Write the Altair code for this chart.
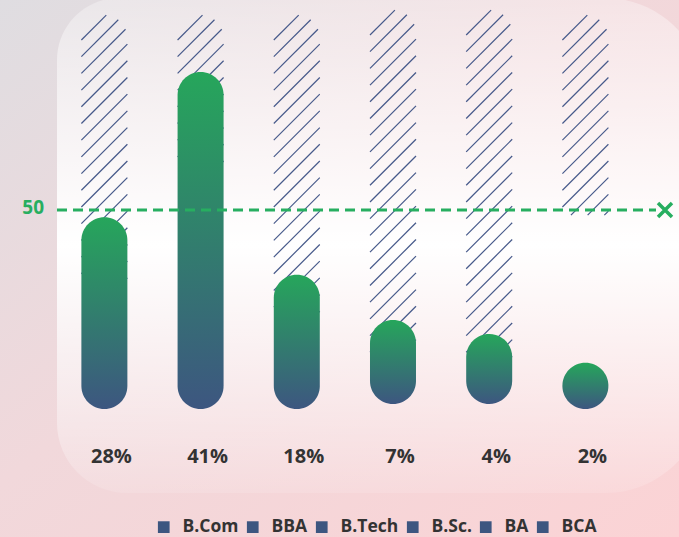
import altair as alt
import pandas as pd
import numpy as np

# ---------------- data ----------------
categories = ["B.Com", "BBA", "B.Tech", "B.Sc.", "BA", "BCA"]
bar_values = [48.2, 84.7, 33.7, 21.1, 17.6, 11.6]
bar_bases = [0, 0, 0, 1.25, 1.25, 0]
hatch_tops = [99, 99, 99, 99, 99, 99]
hatch_bottoms = [30, 60, 22, 12, 10, 48.7]
pct_labels = [28, 41, 18, 7, 4, 2]
threshold = 50

# ---------------- layout ----------------
W, H = 679, 537
X_DOMAIN = [-1.085, 5.973]
Y_DOMAIN = [-32.16, 102.76]
PX_X = W / (X_DOMAIN[1] - X_DOMAIN[0])
PX_Y = H / (Y_DOMAIN[1] - Y_DOMAIN[0])
BAR_W = 46

XS = alt.Scale(domain=X_DOMAIN, nice=False, zero=False, padding=0)
YS = alt.Scale(domain=Y_DOMAIN, nice=False, zero=False, padding=0)

GREEN = "#27ae60"
BAR_TOP = "#26a65b"
BAR_BOTTOM = "#3d5680"
HATCH = "#46598a"
TEXT = "#333333"
FONT = "Open Sans"

idx = list(range(len(categories)))
bars = pd.DataFrame({
    "cat": categories,
    "idx": idx,
    "base": bar_bases,
    "top": [b + v for b, v in zip(bar_bases, bar_values)],
    "label": [f"{p}%" for p in pct_labels],
})

# hatch pattern segments (45 deg lines clipped to a column with rounded top)
segs = []
r = BAR_W / 2
for i, (b, t, btm) in enumerate(zip(bar_bases, hatch_tops, hatch_bottoms)):
    cx = (i - X_DOMAIN[0]) * PX_X
    yt = (Y_DOMAIN[1] - (b + t)) * PX_Y
    yb = (Y_DOMAIN[1] - (b + btm)) * PX_Y
    L, R = cx - r, cx + r
    xs = np.linspace(L, R, 400)
    c = yt + 25 - 16.7 * 3
    while c - BAR_W <= yb:
        ys = c - (xs - L)
        inside = (ys <= yb) & ((ys >= yt + r) | ((xs - cx) ** 2 + (ys - (yt + r)) ** 2 <= r * r))
        if inside.sum() > 3:
            xa, xb = xs[inside].min(), xs[inside].max()
            ya, yb2 = c - (xa - L), c - (xb - L)
            segs.append({
                "x0": xa / PX_X + X_DOMAIN[0], "y0": Y_DOMAIN[1] - ya / PX_Y,
                "x1": xb / PX_X + X_DOMAIN[0], "y1": Y_DOMAIN[1] - yb2 / PX_Y,
            })
        c += 16.7
hatch = pd.DataFrame(segs)

one = pd.DataFrame({"a": [0]})

bg_grad = alt.Gradient(
    gradient="linear", x1=0, y1=0, x2=1, y2=1,
    stops=[alt.GradientStop(color="#dfdde1", offset=0),
           alt.GradientStop(color="#f1d8db", offset=0.45),
           alt.GradientStop(color="#fbd3d5", offset=1)])
panel_grad = alt.Gradient(
    gradient="linear", x1=0, y1=0, x2=0, y2=1,
    stops=[alt.GradientStop(color="rgba(255,255,255,0.3)", offset=0),
           alt.GradientStop(color="rgba(255,255,255,1)", offset=0.5),
           alt.GradientStop(color="rgba(255,255,255,0.12)", offset=1)])
bar_grad = alt.Gradient(
    gradient="linear", x1=0, y1=0, x2=0, y2=1,
    stops=[alt.GradientStop(color=BAR_TOP, offset=0),
           alt.GradientStop(color=BAR_BOTTOM, offset=1)])

background = alt.Chart(one).mark_rect(fill=bg_grad).encode(
    x=alt.value(0), x2=alt.value("width"), y=alt.value(0), y2=alt.value("height"))

panel = alt.Chart(one).mark_rect(
    fill=panel_grad, cornerRadiusTopLeft=62, cornerRadiusBottomLeft=70,
    cornerRadiusTopRight=100, cornerRadiusBottomRight=100,
).encode(
    x=alt.value(57), x2=alt.value(705), y=alt.value(-2), y2=alt.value(493))

hatch_layer = alt.Chart(hatch).mark_rule(color=HATCH, strokeWidth=1.2).encode(
    x=alt.X("x0:Q", scale=XS, axis=None),
    x2="x1:Q",
    y=alt.Y("y0:Q", scale=YS, axis=None),
    y2="y1:Q",
)

bar_layer = alt.Chart(bars).mark_bar(width=BAR_W, cornerRadius=BAR_W / 2, fill=bar_grad).encode(
    x=alt.X("idx:Q", scale=XS, axis=None),
    y=alt.Y("top:Q", scale=YS, axis=None),
    y2="base:Q",
)

line_layer = alt.Chart(one).mark_rule(color=GREEN, strokeWidth=3, strokeDash=[10, 6]).encode(
    x=alt.value(57), x2=alt.value(656),
    y=alt.YDatum(threshold, scale=YS, axis=None),
)

cross_layer = alt.Chart(one).mark_point(
    shape="M-1,-1L1,1M-1,1L1,-1", filled=False, color=GREEN, strokeWidth=3.5, size=196, opacity=1
).encode(
    x=alt.value(665),
    y=alt.YDatum(threshold, scale=YS, axis=None),
)

thr_text = alt.Chart(one).mark_text(
    text=str(threshold), font=FONT, fontWeight="bold", fontSize=19, color=GREEN,
    align="right", baseline="middle", dy=-1.5
).encode(
    x=alt.value(44),
    y=alt.YDatum(threshold, scale=YS, axis=None),
)

pct_layer = alt.Chart(bars).mark_text(
    font=FONT, fontWeight="bold", fontSize=20, color=TEXT, baseline="middle", dx=7
).encode(
    x=alt.X("idx:Q", scale=XS, axis=None),
    y=alt.YDatum(-12, scale=YS, axis=None),
    text="label:N",
)

legend_layer = alt.Chart(bars).mark_square(opacity=0, size=1).encode(
    x=alt.X("idx:Q", scale=XS, axis=None),
    y=alt.Y("base:Q", scale=YS, axis=None),
    color=alt.Color(
        "cat:N",
        scale=alt.Scale(domain=categories, range=[BAR_BOTTOM] * len(categories)),
        legend=alt.Legend(
            title=None, orient="none", legendX=155, legendY=518, direction="horizontal",
            symbolType="square", symbolSize=137, symbolOpacity=1, symbolStrokeWidth=0,
            labelFont=FONT, labelFontWeight="bold", labelFontSize=17.5, labelColor=TEXT,
            labelOffset=10, columnPadding=5, padding=0,
        ),
    ),
)

chart = alt.layer(
    background, panel, hatch_layer, bar_layer, line_layer, cross_layer, thr_text, pct_layer, legend_layer
).properties(
    width=W, height=H, padding=0, autosize=alt.AutoSizeParams(type="none"),
    background="#f6d6d8",
).configure_view(stroke=None)

chart.save("out.html", embed_options={"renderer": "svg", "actions": False})
